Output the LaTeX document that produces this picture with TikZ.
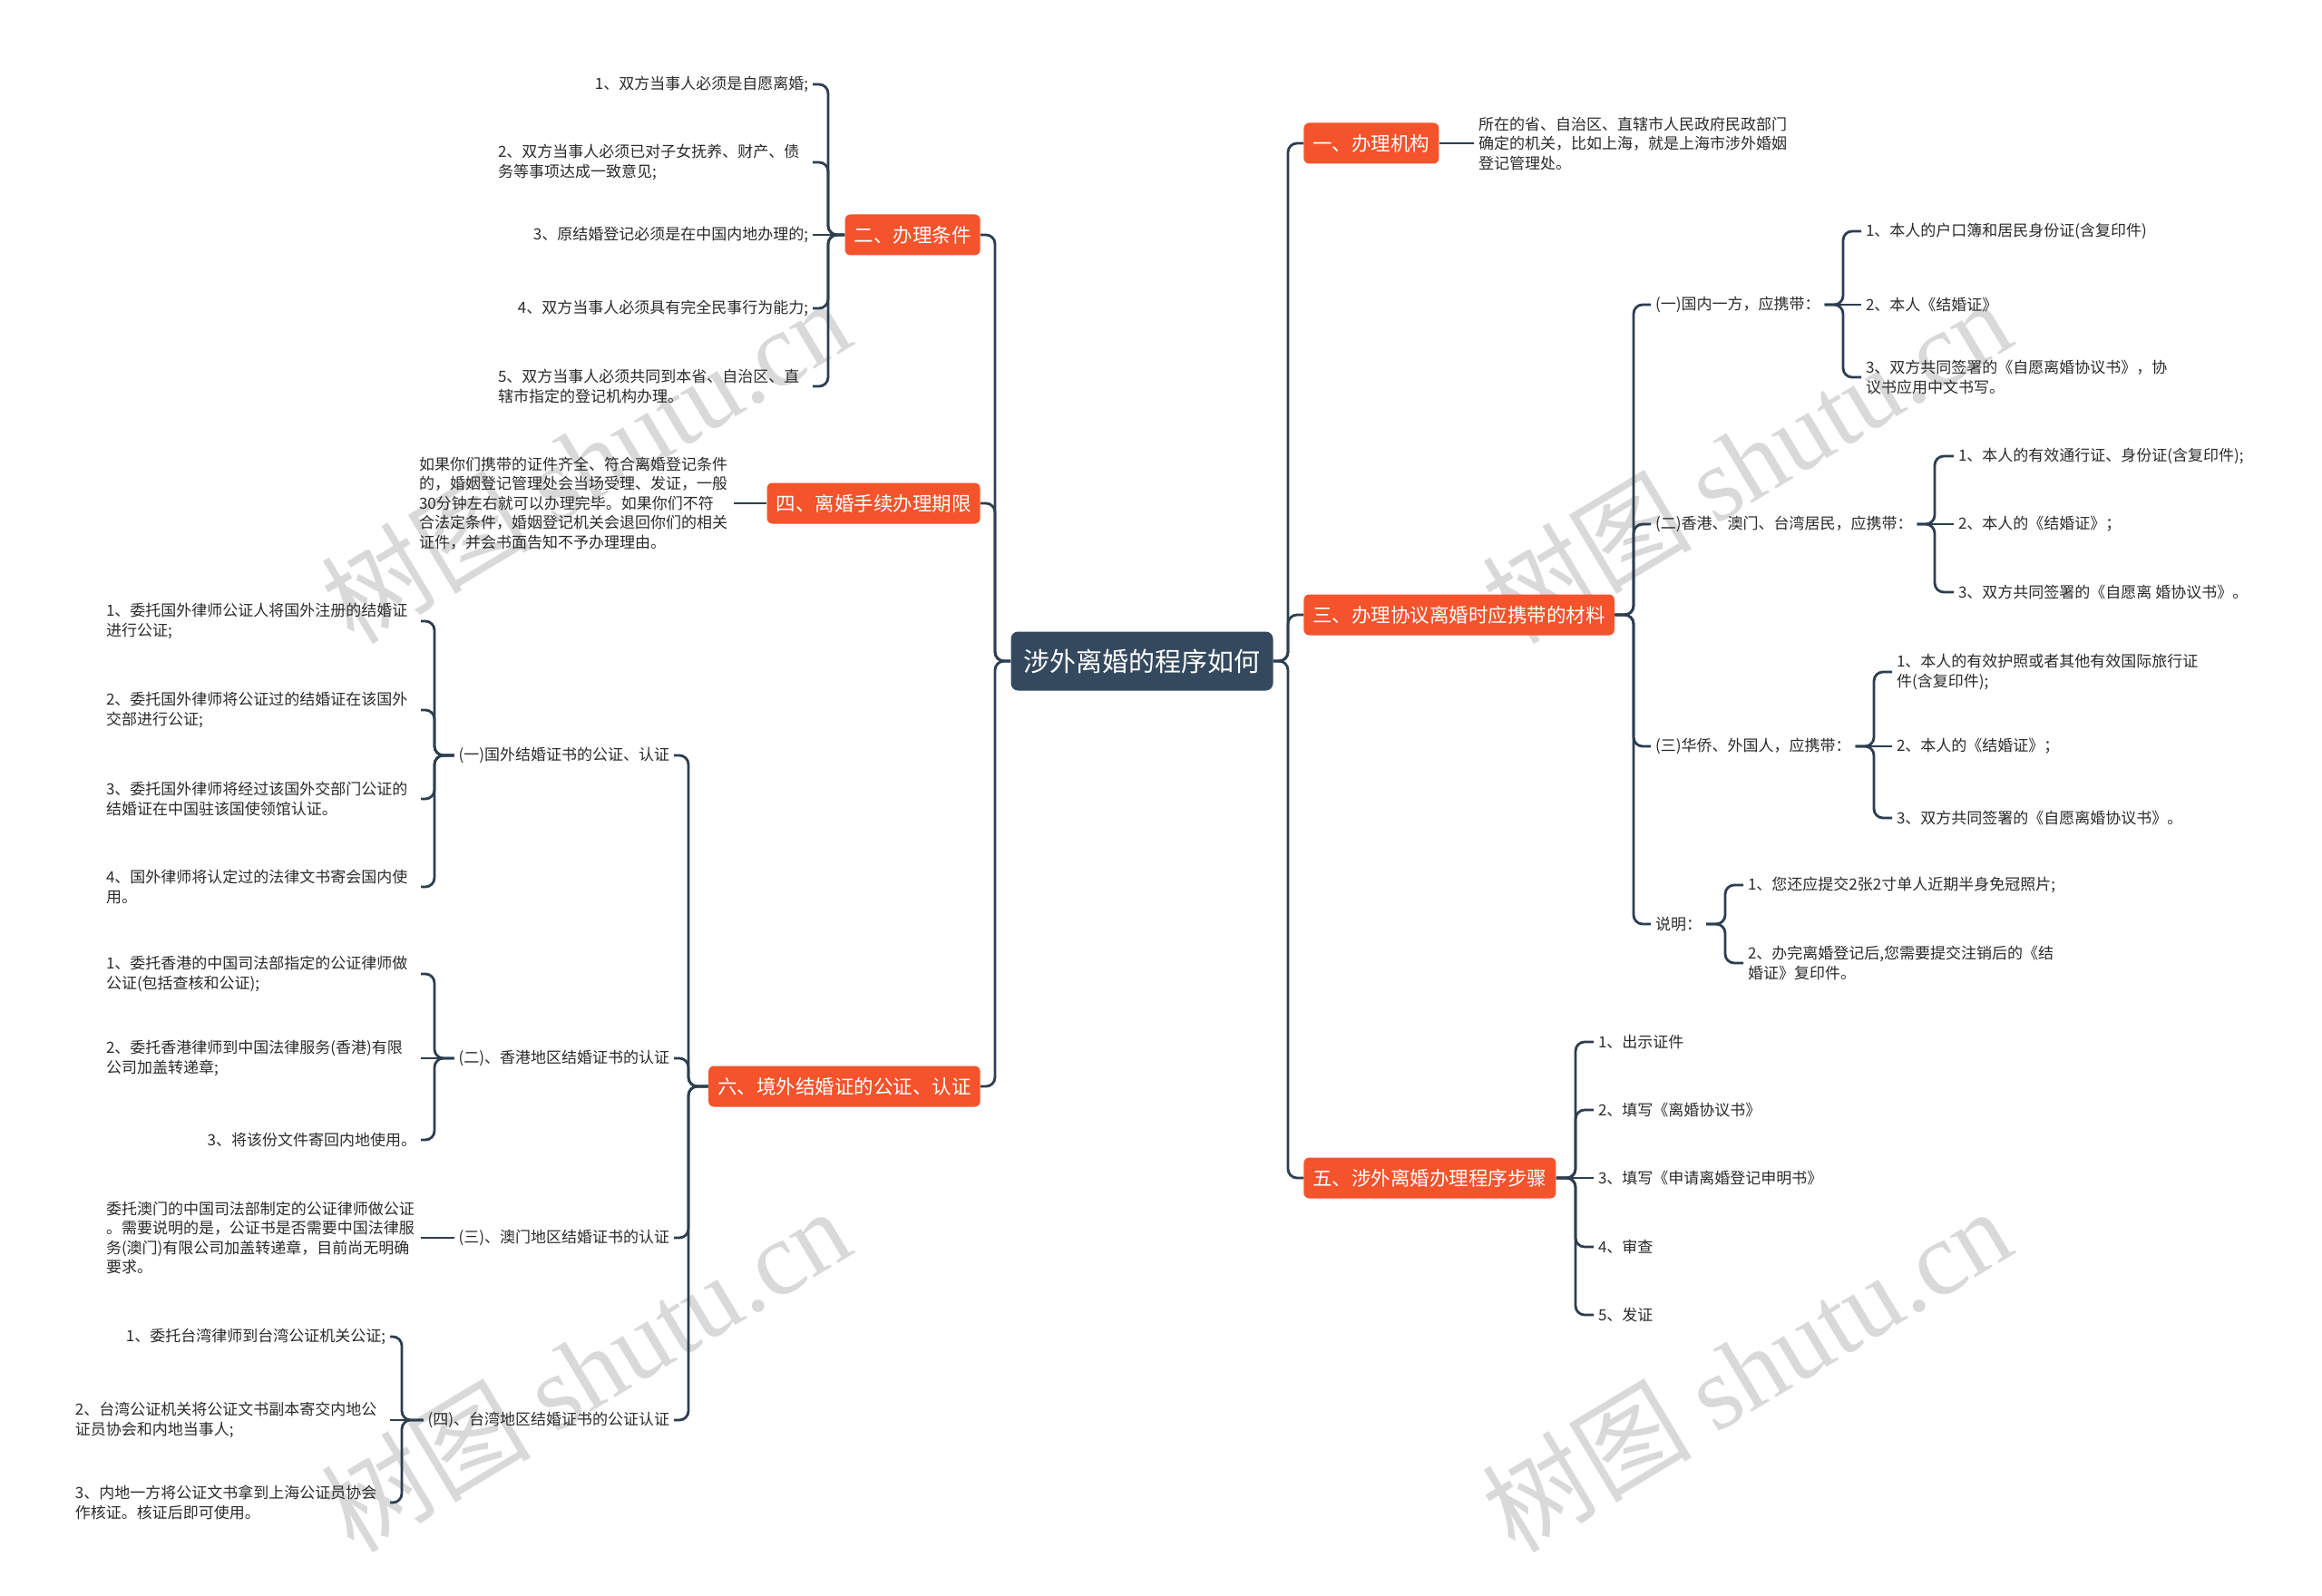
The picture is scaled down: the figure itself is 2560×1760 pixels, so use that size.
\documentclass[tikz,border=0pt]{standalone}
\usepackage{fontspec}
\setmainfont{Noto Sans CJK SC}
\newfontfamily\wmfont{Liberation Serif}
\newfontfamily\wmcjk{Noto Sans CJK SC}
\definecolor{rootc}{HTML}{34495E}
\definecolor{orc}{HTML}{F4532B}
\definecolor{linec}{HTML}{2C3E50}
\definecolor{txtc}{HTML}{2B2B2B}
\definecolor{wmc}{HTML}{D9D9D9}
\tikzset{
  rootbox/.style={fill=rootc, text=white, rounded corners=4pt, font=\fontsize{14.5}{17}\selectfont, inner xsep=7pt, inner ysep=0pt, minimum height=32.5pt},
  lonebox/.style={fill=orc, text=white, rounded corners=3pt, font=\fontsize{10.75}{13}\selectfont, inner xsep=5pt, inner ysep=0pt, minimum height=22.5pt},
  det/.style={font=\fontsize{8.5}{10.75}\selectfont, text=txtc, align=left, inner sep=0pt, outer sep=2.5pt},
  wide/.style={text width=171pt},
  conn/.style={draw=linec, line width=1.4pt, rounded corners=5pt},
  wm/.style={text=wmc, rotate=31, inner sep=0pt, font=\fontsize{58}{58}\selectfont}
}
\begin{document}
\begin{tikzpicture}[x=0.5pt,y=-0.5pt]
\useasboundingbox (0,0) rectangle (2560,1760);
\fill[white] (0,0) rectangle (2560,1760);
% watermarks
\node[wm] (w1) at (645,508) {\wmcjk 树图 \wmfont shutu.cn};
\node[wm] (w2) at (1925,508) {\wmcjk 树图 \wmfont shutu.cn};
\node[wm] (w3) at (645,1510) {\wmcjk 树图 \wmfont shutu.cn};
\node[wm] (w4) at (1925,1510) {\wmcjk 树图 \wmfont shutu.cn};

% root
\node[rootbox] (root) at (1259,729) {涉外离婚的程序如何};

% level 1 right
\node[lonebox, anchor=west] (r1) at (1437,158) {一、办理机构};
\node[lonebox, anchor=west] (r3) at (1437,678) {三、办理协议离婚时应携带的材料};
\node[lonebox, anchor=west] (r5) at (1437,1299) {五、涉外离婚办理程序步骤};
% level 1 left
\node[lonebox, anchor=east] (l2) at (1081,259) {二、办理条件};
\node[lonebox, anchor=east] (l4) at (1081,555) {四、离婚手续办理期限};
\node[lonebox, anchor=east] (l6) at (1081,1198) {六、境外结婚证的公证、认证};

% r1 detail
\node[det, anchor=west] (r1a) at (1625,158) {所在的省、自治区、直辖市人民政府民政部门\\确定的机关，比如上海，就是上海市涉外婚姻\\登记管理处。};

% r3 children
\node[det, anchor=west] (a1) at (1820,336) {(一)国内一方，应携带：};
\node[det, anchor=west] (a2) at (1820,578) {(二)香港、澳门、台湾居民，应携带：};
\node[det, anchor=west] (a3) at (1820,823) {(三)华侨、外国人，应携带：};
\node[det, anchor=west] (a4) at (1820,1019) {说明：};

\node[det, anchor=west] (a11) at (2052,255) {1、本人的户口簿和居民身份证(含复印件)};
\node[det, anchor=west] (a12) at (2052,336) {2、本人《结婚证》};
\node[det, anchor=west] (a13) at (2052,416) {3、双方共同签署的《自愿离婚协议书》，协\\议书应用中文书写。};

\node[det, anchor=west] (a21) at (2154,503) {1、本人的有效通行证、身份证(含复印件);};
\node[det, anchor=west] (a22) at (2154,578) {2、本人的《结婚证》；};
\node[det, anchor=west] (a23) at (2154,653) {3、双方共同签署的《自愿离 婚协议书》。};

\node[det, anchor=west] (a31) at (2086,741) {1、本人的有效护照或者其他有效国际旅行证\\件(含复印件);};
\node[det, anchor=west] (a32) at (2086,823) {2、本人的《结婚证》；};
\node[det, anchor=west] (a33) at (2086,902) {3、双方共同签署的《自愿离婚协议书》。};

\node[det, anchor=west] (a41) at (1922,976) {1、您还应提交2张2寸单人近期半身免冠照片;};
\node[det, anchor=west] (a42) at (1922,1062) {2、办完离婚登记后,您需要提交注销后的《结\\婚证》复印件。};

% r5 children
\node[det, anchor=west] (s1) at (1757,1149) {1、出示证件};
\node[det, anchor=west] (s2) at (1757,1224) {2、填写《离婚协议书》};
\node[det, anchor=west] (s3) at (1757,1299) {3、填写《申请离婚登记申明书》};
\node[det, anchor=west] (s4) at (1757,1375) {4、审查};
\node[det, anchor=west] (s5) at (1757,1450) {5、发证};

% l2 children
\node[det, anchor=east] (b1) at (896,93) {1、双方当事人必须是自愿离婚;};
\node[det, wide, anchor=east] (b2) at (896,179) {2、双方当事人必须已对子女抚养、财产、债\\务等事项达成一致意见;};
\node[det, anchor=east] (b3) at (896,259) {3、原结婚登记必须是在中国内地办理的;};
\node[det, anchor=east] (b4) at (896,340) {4、双方当事人必须具有完全民事行为能力;};
\node[det, wide, anchor=east] (b5) at (896,426) {5、双方当事人必须共同到本省、自治区、直\\辖市指定的登记机构办理。};

% l4 child
\node[det, wide, anchor=east] (c1) at (809,555) {如果你们携带的证件齐全、符合离婚登记条件\\的，婚姻登记管理处会当场受理、发证，一般\\30分钟左右就可以办理完毕。如果你们不符\\合法定条件，婚姻登记机关会退回你们的相关\\证件，并会书面告知不予办理理由。};

% l6 children
\node[det, anchor=east] (d1) at (743,833) {(一)国外结婚证书的公证、认证};
\node[det, anchor=east] (d2) at (743,1167) {(二)、香港地区结婚证书的认证};
\node[det, anchor=east] (d3) at (743,1365) {(三)、澳门地区结婚证书的认证};
\node[det, anchor=east] (d4) at (743,1566) {(四)、台湾地区结婚证书的公证认证};

\node[det, wide, anchor=east] (d11) at (464,685) {1、委托国外律师公证人将国外注册的结婚证\\进行公证;};
\node[det, wide, anchor=east] (d12) at (464,783) {2、委托国外律师将公证过的结婚证在该国外\\交部进行公证;};
\node[det, wide, anchor=east] (d13) at (464,881) {3、委托国外律师将经过该国外交部门公证的\\结婚证在中国驻该国使领馆认证。};
\node[det, wide, anchor=east] (d14) at (464,978) {4、国外律师将认定过的法律文书寄会国内使\\用。};

\node[det, wide, anchor=east] (d21) at (464,1074) {1、委托香港的中国司法部指定的公证律师做\\公证(包括查核和公证);};
\node[det, wide, anchor=east] (d22) at (464,1167) {2、委托香港律师到中国法律服务(香港)有限\\公司加盖转递章;};
\node[det, anchor=east] (d23) at (464,1257) {3、将该份文件寄回内地使用。};

\node[det, wide, anchor=east] (d31) at (464,1365) {委托澳门的中国司法部制定的公证律师做公证\\。需要说明的是，公证书是否需要中国法律服\\务(澳门)有限公司加盖转递章，目前尚无明确\\要求。};

\node[det, anchor=east] (d41) at (430,1474) {1、委托台湾律师到台湾公证机关公证;};
\node[det, wide, anchor=east] (d42) at (430,1566) {2、台湾公证机关将公证文书副本寄交内地公\\证员协会和内地当事人;};
\node[det, wide, anchor=east] (d43) at (430,1657) {3、内地一方将公证文书拿到上海公证员协会\\作核证。核证后即可使用。};

% ---------- connectors ----------
\foreach \n in {r1,r3,r5} \draw[conn] (root.east) -- (1420,729) |- (\n.west);
\foreach \n in {l2,l4,l6} \draw[conn] (root.west) -- (1097,729) |- (\n.east);

\draw[conn] (r1.east) -- (r1a.west);

\foreach \n in {a1,a2,a3,a4} \draw[conn] (r3.east) -- (1801,678) |- (\n.west);

\foreach \n in {a11,a13} \draw[conn] (a1.east) -- (2032,336) |- (\n.west);
\draw[conn] (a1.east) -- (a12.west);
\foreach \n in {a21,a23} \draw[conn] (a2.east) -- (2133,578) |- (\n.west);
\draw[conn] (a2.east) -- (a22.west);
\foreach \n in {a31,a33} \draw[conn] (a3.east) -- (2066,823) |- (\n.west);
\draw[conn] (a3.east) -- (a32.west);
\foreach \n in {a41,a42} \draw[conn] (a4.east) -- (1902,1019) |- (\n.west);

\foreach \n in {s1,s2,s4,s5} \draw[conn] (r5.east) -- (1737,1299) |- (\n.west);
\draw[conn] (r5.east) -- (s3.west);

\foreach \n in {b1,b2,b4,b5} \draw[conn] (l2.west) -- (913,259) |- (\n.east);
\draw[conn] (l2.west) -- (b3.east);

\draw[conn] (l4.west) -- (c1.east);

\foreach \n in {d1,d2,d3,d4} \draw[conn] (l6.west) -- (759,1198) |- (\n.east);

\foreach \n in {d11,d12,d13,d14} \draw[conn] (d1.west) -- (479,833) |- (\n.east);
\foreach \n in {d21,d23} \draw[conn] (d2.west) -- (479,1167) |- (\n.east);
\draw[conn] (d2.west) -- (d22.east);
\draw[conn] (d3.west) -- (d31.east);
\foreach \n in {d41,d43} \draw[conn] (d4.west) -- (443,1566) |- (\n.east);
\draw[conn] (d4.west) -- (d42.east);
\end{tikzpicture}
\end{document}
